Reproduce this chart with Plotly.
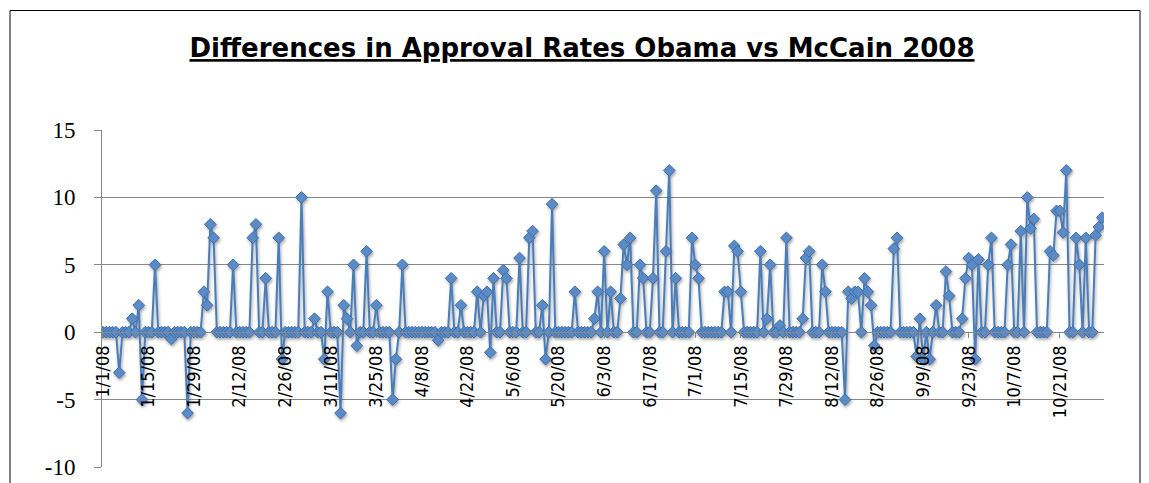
from datetime import datetime, timedelta

import pandas as pd
import plotly.graph_objects as go

# Daily difference in approval rate (Obama minus McCain), one list per month of 2008
JAN = [0, 0, 0, 0, 0, -3, 0, 0, 0, 1, 0, 2, -5, 0, 0, 0, 5, 0, 0, 0,
       0, -0.5, 0, 0, 0, 0, -6, 0, 0, 0, 0]
FEB = [3, 2, 8, 7, 0, 0, 0, 0, 0, 5, 0, 0, 0, 0, 0, 7, 8, 0, 0, 4,
       0, 0, 0, 7, -2, 0, 0, 0, 0]
MAR = [0, 10, 0, 0, 0, 1, 0, 0, -2, 3, 0, 0, 0, -6, 2, 1, 0, 5, -1, 0,
       0, 6, 0, 0, 2, 0, 0, 0, 0, -5, -2]
APR = [0, 5, 0, 0, 0, 0, 0, 0, 0, 0, 0, 0, -0.6, 0, 0, 0, 4, 0, 0, 2,
       0, 0, 0, 0, 3, 0, 2.7, 3, -1.5, 4]
MAY = [0, 0, 4.6, 4, 0, 0, 0, 5.5, 0, 0, 7, 7.5, 0, 0, 2, -2, 0, 9.5, 0, 0,
       0, 0, 0, 0, 3, 0, 0, 0, 0, 0, 1]
JUN = [3, 0, 6, 0, 3, 0, 0, 2.5, 6.5, 5, 7, 0, 0, 5, 4, 0, 0, 4, 10.5, 0,
       0, 6, 12, 0, 4, 0, 0, 0, 0, 7]
JUL = [5, 4, 0, 0, 0, 0, 0, 0, 0, 3, 3, 0, 6.4, 6, 3, 0, 0, 0, 0, 0,
       6, 0, 1, 5, 0, 0, 0.5, 0, 7, 0, 0]
AUG = [0, 0, 1, 5.5, 6, 0, 0, 0, 5, 3, 0, 0, 0, 0, 0, -5, 3, 2.5, 3, 3,
       0, 4, 3, 2, -1, 0, 0, 0, 0, 0, 6.2]
SEP = [7, 0, 0, 0, 0, 0, -1.8, 1, -2, 0, -2, 0, 2, 0, 0, 4.5, 2.7, 0, 0, 0,
       1, 4, 5.5, 5, -2, 5.4, 0, 0, 5, 7]
OCT = [0, 0, 0, 0, 5, 6.5, 0, 0, 7.5, 0, 10, 7.7, 8.4, 0, 0, 0, 0, 6, 5.7, 9,
       9, 7.4, 12, 0, 0, 7, 5, 0, 7, 0, 0]
NOV = [7.2, 7.8, 8.5]

FIRST_DAY = datetime(2008, 1, 1)

TICK_LABELS = ["1/1/08", "1/15/08", "1/29/08", "2/12/08", "2/26/08", "3/11/08",
               "3/25/08", "4/8/08", "4/22/08", "5/6/08", "5/20/08", "6/3/08",
               "6/17/08", "7/1/08", "7/15/08", "7/29/08", "8/12/08", "8/26/08",
               "9/9/08", "9/23/08", "10/7/08", "10/21/08"]
Y_TICKS = [-10, -5, 0, 5, 10, 15]
Y_TICK_LABELS = ["-10", "-5", "0", "5", "10", "15"]

TITLE = "Differences in Approval Rates Obama vs McCain 2008"

values = JAN + FEB + MAR + APR + MAY + JUN + JUL + AUG + SEP + OCT + NOV
dates = pd.date_range(FIRST_DAY, periods=len(values), freq="D")
tick_dates = [datetime.strptime(s, "%m/%d/%y") for s in TICK_LABELS]

# page geometry (pixels)
W, H = 1149, 483
M_L, M_R, M_T, M_B = 102, 45, 130, 16
PLOT_W = W - M_L - M_R
PLOT_H = H - M_T - M_B


def px_to_paper_x(px):
    return (px - M_L) / PLOT_W


def px_to_paper_y(py):
    return (H - M_B - py) / PLOT_H


Y_MIN, Y_MAX = -10, 15
x_start = FIRST_DAY - timedelta(hours=7)
x_end = FIRST_DAY + timedelta(days=len(values) - 1, hours=14)

BLUE = "#4A7EBB"
GRID = "#878787"

fig = go.Figure()
fig.add_trace(go.Scatter(
    x=dates, y=values,
    mode="lines+markers",
    line=dict(color=BLUE, width=2),
    marker=dict(symbol="diamond", size=9, color="#5B8BC7",
                line=dict(color="#3F6FA9", width=1)),
    hoverinfo="x+y",
    showlegend=False,
))

fig.update_layout(
    width=W, height=H,
    margin=dict(l=M_L, r=M_R, t=M_T, b=M_B, autoexpand=False),
    paper_bgcolor="white", plot_bgcolor="white",
    title=dict(
        text=TITLE,
        x=582 / W, xref="container", xanchor="center",
        y=1 - 48 / H, yref="container", yanchor="middle",
        font=dict(family="DejaVu Sans", size=26, color="black",
                  weight="bold", lineposition="under"),
    ),
    xaxis=dict(
        type="date",
        range=[x_start, x_end],
        tickvals=tick_dates, ticktext=TICK_LABELS,
        tickangle=-90,
        anchor="free",
        position=(0 - Y_MIN) / (Y_MAX - Y_MIN),
        showline=True, linecolor=GRID, linewidth=1,
        ticks="outside", ticklen=5, tickcolor=GRID, tickwidth=1,
        showgrid=False, zeroline=False,
        tickfont=dict(family="Liberation Sans Narrow, DejaVu Sans Condensed",
                      size=18, color="black"),
        automargin=False,
    ),
    yaxis=dict(
        range=[Y_MIN, Y_MAX],
        tickvals=Y_TICKS, ticktext=Y_TICK_LABELS,
        showline=True, linecolor=GRID, linewidth=1,
        showgrid=True, gridcolor=GRID, gridwidth=1,
        zeroline=False,
        ticks="outside", ticklen=7, tickcolor=GRID, tickwidth=1,
        ticklabelstandoff=14,
        tickfont=dict(family="Liberation Serif", size=23, color="black"),
        automargin=False,
    ),
    shapes=[dict(
        type="rect", xref="paper", yref="paper",
        x0=px_to_paper_x(10), x1=px_to_paper_x(1140),
        y0=px_to_paper_y(500), y1=px_to_paper_y(10.5),
        line=dict(color="black", width=1), fillcolor="rgba(0,0,0,0)",
        layer="below",
    )],
)

# soft shadow under the series, as in the spreadsheet chart style
SHADOW_JS = """
document.querySelectorAll('.scatterlayer .trace').forEach(function (t) {
  t.style.filter = 'drop-shadow(1px 2px 1.5px rgba(0,0,0,0.35))';
});
"""

fig.write_html("out.html", post_script=SHADOW_JS)
